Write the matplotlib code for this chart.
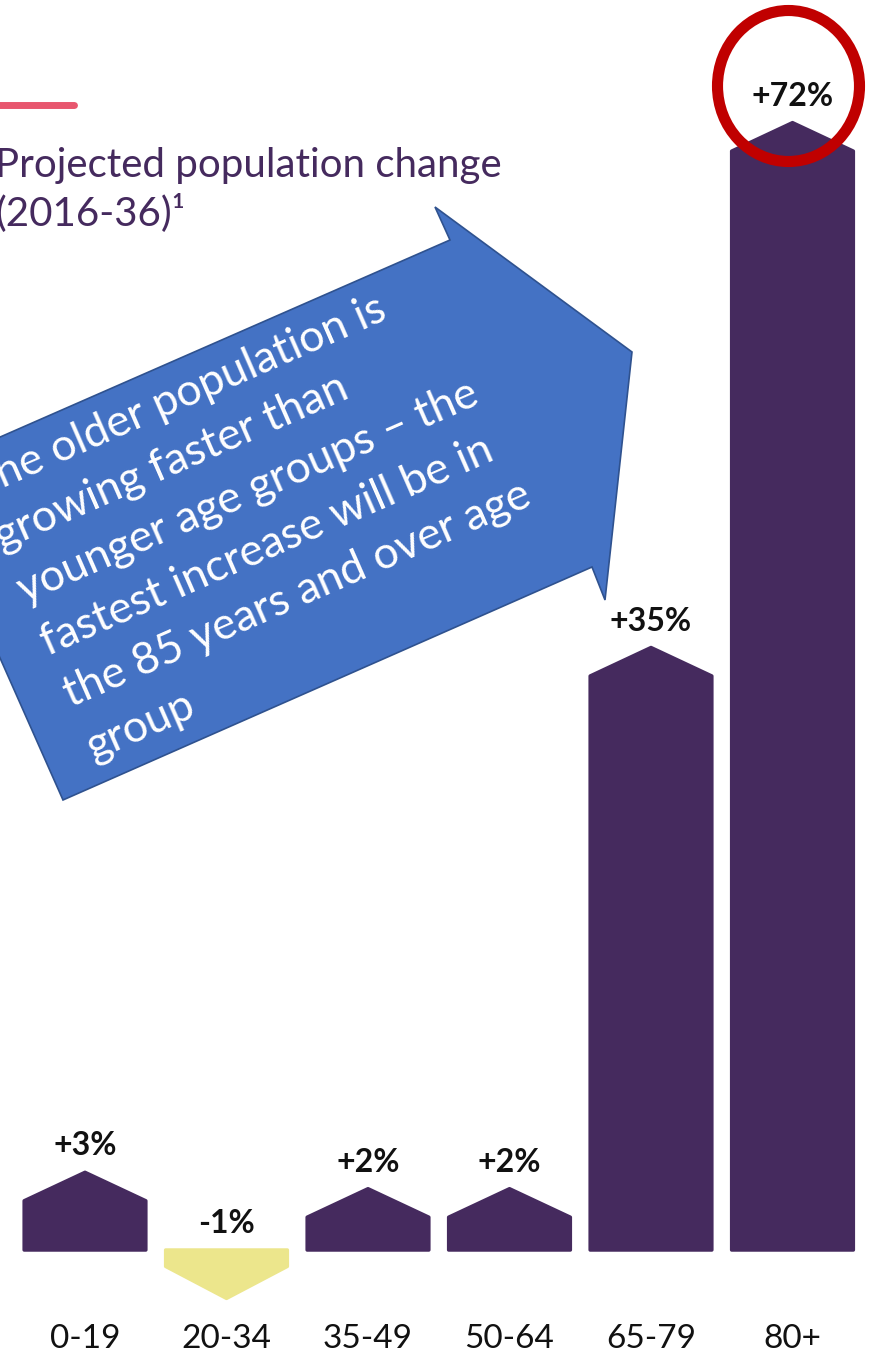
import numpy as np
import matplotlib
matplotlib.use("Agg")
import matplotlib.pyplot as plt
from matplotlib.patches import Polygon, Ellipse
from matplotlib.lines import Line2D

# data
groups = ["0-19", "20-34", "35-49", "50-64", "65-79", "80+"]
change = [3, -1, 2, 2, 35, 72]
labels = ["+3%", "-1%", "+2%", "+2%", "+35%", "+72%"]

PURPLE = "#452A5E"
YELLOW = "#ECE68C"
W, H = 871, 1353

plt.rcParams["font.family"] = ["Lato", "DejaVu Sans"]

fig = plt.figure(figsize=(W / 100, H / 100), dpi=100)
ax = fig.add_axes([0, 0, 1, 1])
ax.axis("off")


# the infographic compresses the tallest bar a little
def fwd(v):
    v = np.asarray(v, dtype=float)
    return np.where(v <= 35, v, 35 + (v - 35) * 0.865)


def inv(u):
    u = np.asarray(u, dtype=float)
    return np.where(u <= 35, u, 35 + (u - 35) / 0.865)


ax.set_yscale("function", functions=(fwd, inv))
px = 16.4  # pixels per unit
ax.set_xlim(-85 / 141.5, (W - 85) / 141.5)
ax.set_ylim(-(H - 1250) / px, float(inv(1250 / px)))

bw = 0.86
tip_up = 28.5 / px
tip_dn = 32 / px
for i, (v, lab) in enumerate(zip(change, labels)):
    l, r = i - bw / 2, i + bw / 2
    if v >= 0:
        apex = float(inv(fwd(v) + tip_up))
        pts = [(l, 0), (l, v), (i, apex), (r, v), (r, 0)]
        col = PURPLE
        ly = apex
    else:
        apex = v - tip_dn
        pts = [(l, 0), (r, 0), (r, v), (i, apex), (l, v)]
        col = YELLOW
        ly = 0
    ax.add_patch(Polygon(pts, closed=True, facecolor=col, edgecolor=col,
                         lw=2.5, joinstyle="round"))
    ax.annotate(lab, (i, ly), xytext=(0, 17), textcoords="offset pixels",
                ha="center", va="baseline", fontsize=23, fontweight="bold",
                color="#111111")
    ax.annotate(groups[i], (i, 0), xytext=(0, -98), textcoords="offset pixels",
                ha="center", va="baseline", fontsize=24, color="#111111")


def fx(x):
    return x / W


def fy(y):
    return 1 - y / H


# header
fig.add_artist(Line2D([fx(-5), fx(74)], [fy(105), fy(105)], lw=5,
                      color="#E8566E", solid_capstyle="round"))
fig.text(fx(-5), fy(177), "Projected population change", fontsize=29,
         color=PURPLE, ha="left", va="baseline")
fig.text(fx(-5), fy(225), "(2016-36)¹", fontsize=29,
         color=PURPLE, ha="left", va="baseline")

# callout arrow
arrow = [(632, 352), (435, 207), (450, 240), (-82, 473), (63, 800),
         (592, 567), (605, 600)]
fig.add_artist(Polygon([(fx(x), fy(y)) for x, y in arrow], closed=True,
                       facecolor="#4472C4", edgecolor="#2F528F", lw=1.2,
                       transform=fig.transFigure))
fig.text(fx(31), fy(618),
         "The older population is\ngrowing faster than\nyounger age groups – the\n"
         "fastest increase will be in\nthe 85 years and over age\ngroup",
         rotation=23.7, rotation_mode="anchor", ha="left", va="center",
         multialignment="left", fontsize=32, color="white", linespacing=1.49)

# red highlight ring
fig.add_artist(Ellipse((fx(788.5), fy(86)), 142 / W, 151 / H, fill=False,
                       edgecolor="#C00000", lw=8, transform=fig.transFigure))

fig.savefig("out.png", dpi=100, facecolor="white")
